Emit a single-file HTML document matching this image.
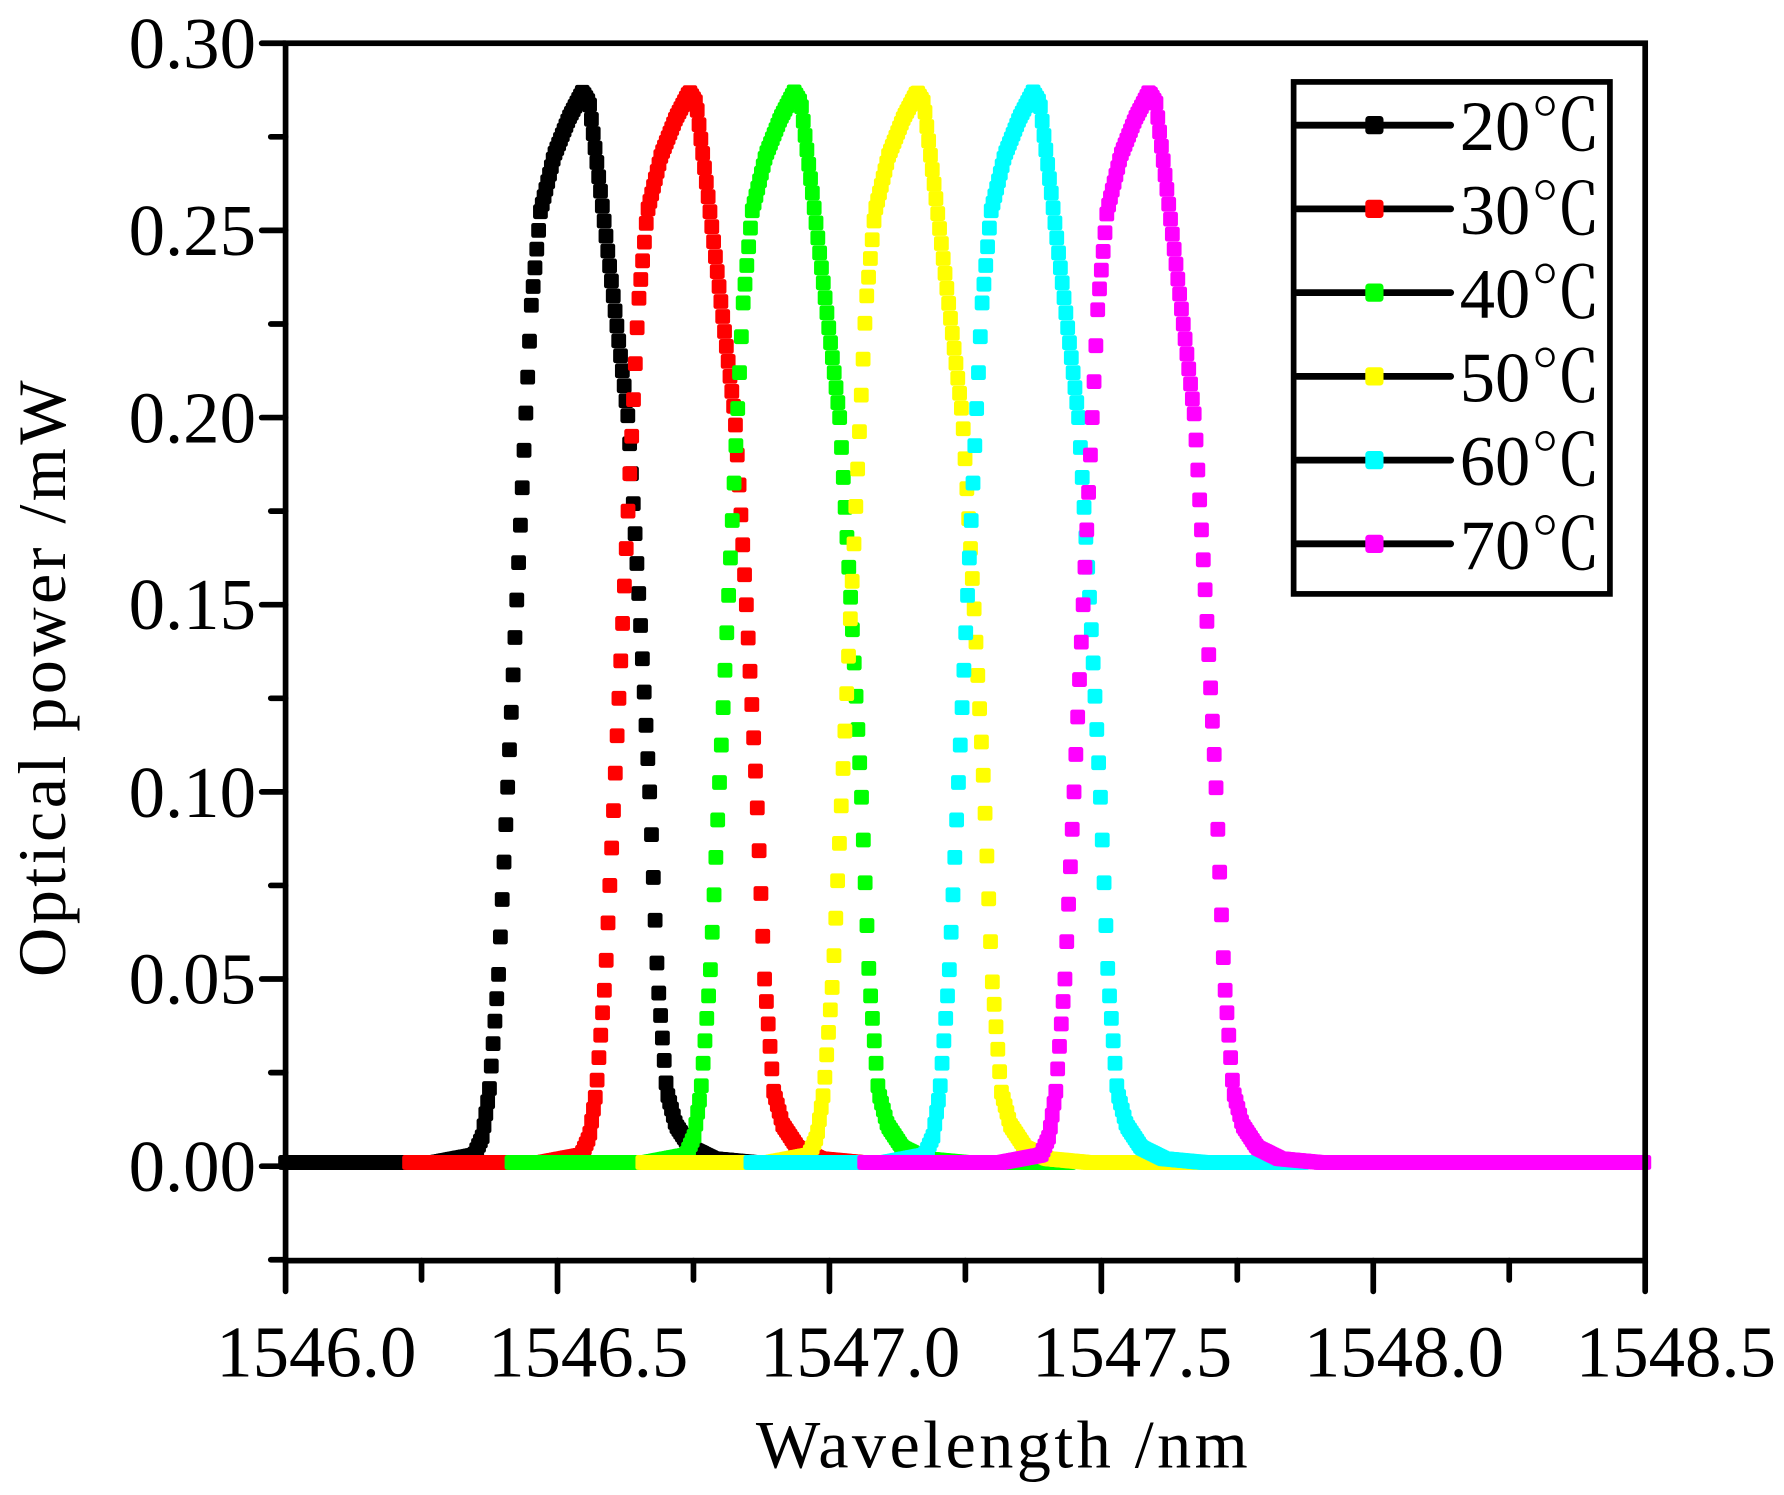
<!DOCTYPE html>
<html><head><meta charset="utf-8"><style>
html,body{margin:0;padding:0;background:#fff;}
svg{display:block;}
text{font-family:"Liberation Serif","Noto Serif CJK SC",serif;fill:#000;}
</style></head><body>
<svg id="s" width="1784" height="1495" viewBox="0 0 1568 1314" preserveAspectRatio="none" xmlns="http://www.w3.org/2000/svg">
<rect x="0" y="0" width="1568" height="1314" fill="#fff"/>
<g id="curves"></g>
<rect x="251" y="38" width="1195" height="1070" fill="none" stroke="#000" stroke-width="5"/>
<g id="ticks" stroke="#000" stroke-width="5" stroke-linecap="round"></g>
<g font-size="64">
<text x="225" y="1047" text-anchor="end">0.00</text>
<text x="225" y="882" text-anchor="end">0.05</text>
<text x="225" y="718" text-anchor="end">0.10</text>
<text x="225" y="553" text-anchor="end">0.15</text>
<text x="225" y="389" text-anchor="end">0.20</text>
<text x="225" y="224" text-anchor="end">0.25</text>
<text x="225" y="60" text-anchor="end">0.30</text>
</g>
<g font-size="64" text-anchor="middle">
<text x="278" y="1210">1546.0</text>
<text x="517" y="1210">1546.5</text>
<text x="756" y="1210">1547.0</text>
<text x="995" y="1210">1547.5</text>
<text x="1234" y="1210">1548.0</text>
<text x="1473" y="1210">1548.5</text>
</g>
<text x="882" y="1290" font-size="60" letter-spacing="3" text-anchor="middle">Wavelength /nm</text>
<text transform="translate(57,595) rotate(-90)" font-size="60" letter-spacing="3" text-anchor="middle">Optical power /mW</text>
<rect x="1137" y="72" width="278" height="450" fill="#fff" stroke="#000" stroke-width="5"/>
<g id="legend"></g>
</svg>
<script>
var ns="http://www.w3.org/2000/svg";
function el(p,t,a){var e=document.createElementNS(ns,t);for(var k in a)e.setAttribute(k,a[k]);p.appendChild(e);return e;}
var tk=document.getElementById('ticks');
function yv(v){return 1025-v/0.30*987;}
for(var i=-1;i<=12;i++){var v=i*0.025;var y=yv(v);var maj=(i%2==0);
 el(tk,'line',{x1:maj?230:238,y1:y,x2:251,y2:y});}
for(var i=0;i<=10;i++){var x=251+i*119.5;var maj=(i%2==0);
 el(tk,'line',{x1:x,y1:1108,x2:x,y2:maj?1135:1125});}
var prof=[[-130,0.001],[-95,0.003],[-88,0.008],[-82,0.02],[-78,0.035],[-74,0.05],[-66,0.10],[-58,0.15],[-50,0.20],[-45,0.23],[-37,0.255],[-25,0.27],[-12,0.28],[0,0.287],[6,0.284],[16,0.26],[28,0.23],[40,0.20],[50,0.15],[59,0.10],[66,0.05],[74,0.02],[82,0.011],[95,0.005],[115,0.002],[150,0.001]];
function pv(dx){if(dx<=prof[0][0])return prof[0][1];for(var i=1;i<prof.length;i++){if(dx<=prof[i][0]){var a=prof[i-1],b=prof[i];return a[1]+(b[1]-a[1])*(dx-a[0])/(b[0]-a[0]);}}return 0.001;}
var series=[["#000",512,251,760],["#f00",606,360,850],["#0f0",698,450,940],["#ff0",806,565,1050],["#0ff",908,660,1145],["#f0f",1010,760,1445]];
var g=document.getElementById('curves');
series.forEach(function(s){
 for(var x=s[2];x<=s[3];x+=1.6){var v=pv(x-s[1]);
  el(g,'rect',{x:x-6.5,y:yv(v)-6.5,width:13,height:13,rx:2,fill:s[0]});}
});
var lg=document.getElementById('legend');
var labels=["20℃","30℃","40℃","50℃","60℃","70℃"];
for(var i=0;i<6;i++){var y=110+i*73.6;
 el(lg,'line',{x1:1140,y1:y,x2:1275,y2:y,stroke:"#000","stroke-width":6,"stroke-linecap":"round"});
 el(lg,'rect',{x:1200,y:y-8,width:16,height:16,rx:3,fill:series[i][0]});
 var t=el(lg,'text',{x:1283,y:y+22,"font-size":62});t.textContent=labels[i];}
</script>
</body></html>
